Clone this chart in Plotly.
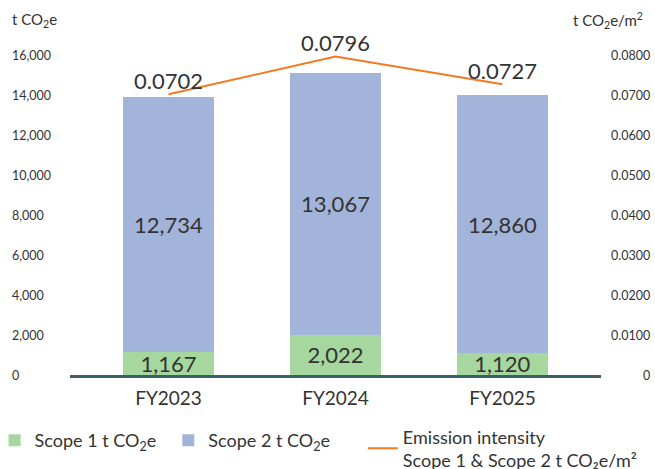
import plotly.graph_objects as go

# Emissions by financial year
years = ["FY2023", "FY2024", "FY2025"]
scope1 = [1167, 2022, 1120]
scope2 = [12734, 13067, 12860]
intensity = [0.0702, 0.0796, 0.0727]

left_ticks = [0, 2000, 4000, 6000, 8000, 10000, 12000, 14000, 16000]
right_ticks = [0, 0.01, 0.02, 0.03, 0.04, 0.05, 0.06, 0.07, 0.08]

FONT = "Lato"
TEXT = "#333333"
GREEN = "#a6d79e"
BLUE = "#a2b4da"
ORANGE = "#f47a22"

xpos = list(range(len(years)))

fig = go.Figure()
fig.add_trace(go.Bar(
    x=xpos, y=scope1, name="Scope 1 t CO<sub>2</sub>e", legend="legend",
    marker=dict(color=GREEN, line=dict(width=0)),
    text=[f"{v:,}" for v in scope1], textposition="inside",
    insidetextanchor="middle", textangle=0, constraintext="none",
    textfont=dict(family=FONT, size=22, color=TEXT),
    width=0.545, showlegend=True,
))
fig.add_trace(go.Bar(
    x=xpos, y=scope2, name="Scope 2 t CO<sub>2</sub>e", legend="legend2",
    marker=dict(color=BLUE, line=dict(width=0)),
    text=[f"{v:,}" for v in scope2], textposition="inside",
    insidetextanchor="middle", textangle=0, constraintext="none",
    textfont=dict(family=FONT, size=22, color=TEXT),
    width=0.545, showlegend=True,
))
fig.add_trace(go.Scatter(
    x=xpos, y=intensity, yaxis="y2", mode="lines+text", legend="legend3",
    name="Emission intensity<br>Scope 1 & Scope 2 t CO₂e/m²",
    line=dict(color=ORANGE, width=2),
    text=[f"{v:.4f}" for v in intensity], textposition="top center",
    textfont=dict(family=FONT, size=22, color=TEXT),
    cliponaxis=False, showlegend=True,
))

# Axis tick labels placed through the axis scales
ann = []
for t in left_ticks:
    ann.append(dict(x=0, xref="paper", xshift=-60, y=t, yref="y",
                    text=f"{t:,}", showarrow=False, xanchor="left",
                    font=dict(family=FONT, size=12.5, color=TEXT)))
for t in right_ticks:
    ann.append(dict(x=1, xref="paper", xshift=51, y=t, yref="y2",
                    text="0" if t == 0 else f"{t:.4f}", showarrow=False,
                    xanchor="right",
                    font=dict(family=FONT, size=12.5, color=TEXT)))
ann.append(dict(x=0, xref="paper", xshift=-60, y=1, yref="paper", yshift=47,
                text="t CO<sub>2</sub>e", showarrow=False, xanchor="left",
                font=dict(family=FONT, size=15, color=TEXT)))
ann.append(dict(x=1, xref="paper", xshift=44, y=1, yref="paper", yshift=47,
                text="t CO<sub>2</sub>e/m<sup>2</sup>", showarrow=False,
                xanchor="right", font=dict(family=FONT, size=15, color=TEXT)))


def legend_box(x, y=0.1, xref="container"):
    return dict(orientation="h", xref=xref, x=x, xanchor="left",
                yref="container", y=y, yanchor="top",
                font=dict(family=FONT, size=18, color=TEXT),
                itemwidth=30, bgcolor="rgba(0,0,0,0)")


fig.update_layout(
    width=655, height=469,
    showlegend=True,
    margin=dict(l=70, r=54, t=55, b=94, autoexpand=False),
    paper_bgcolor="white", plot_bgcolor="white",
    barmode="stack",
    font=dict(family=FONT, color=TEXT),
    xaxis=dict(range=[-0.59, 2.59], tickmode="array", tickvals=xpos,
               ticktext=years, tickfont=dict(family=FONT, size=19, color=TEXT),
               showline=True, linecolor="#3b5f68", linewidth=3,
               showgrid=False, zeroline=False, ticks="", ticklabelstandoff=4),
    yaxis=dict(range=[0, 16000], showticklabels=False, showgrid=False,
               zeroline=False, ticks=""),
    yaxis2=dict(range=[0, 0.08], overlaying="y", side="right",
                showticklabels=False, showgrid=False, zeroline=False, ticks=""),
    legend=legend_box(-0.142, xref="paper"),
    legend2=legend_box(0.257),
    legend3=legend_box(0.554, y=0.108),
    annotations=ann,
)

fig.write_html("out.html")
